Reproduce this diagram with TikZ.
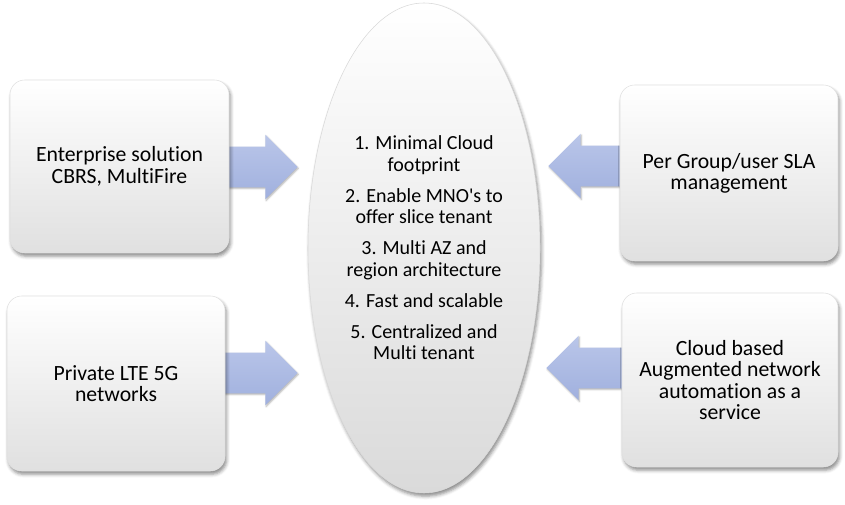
\documentclass[tikz,border=0pt]{standalone}
\usepackage{fontspec}
\setmainfont{Carlito}[Ligatures=NoCommon]
\usepackage{xcolor}
\usepackage{tikz}
\usetikzlibrary{shapes.geometric,shapes.arrows,shadows.blur}

\definecolor{arrowtop}{RGB}{186,198,233}
\definecolor{arrowbot}{RGB}{160,176,222}
\definecolor{boxbot}{RGB}{224,224,224}
\definecolor{hubbot}{RGB}{218,218,218}

\pgfdeclarelayer{background}
\pgfsetlayers{background,main}

\tikzset{
  infobox/.style={rectangle, rounded corners=11pt, top color=white, bottom color=boxbot,
    draw=black!12, line width=0.4pt, align=center, inner sep=2pt,
    blur shadow={shadow xshift=1.2pt, shadow yshift=-2.4pt, shadow blur radius=2.5pt, shadow opacity=45}},
  hubshape/.style={ellipse, top color=white, bottom color=hubbot, draw=black!15,
    line width=0.4pt, inner sep=0pt, minimum width=174pt, minimum height=367.5pt,
    blur shadow={shadow xshift=1.2pt, shadow yshift=-2.4pt, shadow blur radius=2.5pt, shadow opacity=45}},
  hubtext/.style={align=center, inner sep=0pt, font=\fontsize{15}{16.2}\selectfont},
  feedarrow/.style={single arrow, top color=arrowtop, bottom color=arrowbot, draw=none,
    inner xsep=0pt, inner ysep=15pt, minimum height=60pt, single arrow head extend=9pt,
    blur shadow={shadow xshift=0.6pt, shadow yshift=-1pt, shadow blur radius=1.2pt, shadow opacity=30}}
}

\begin{document}
\begin{tikzpicture}[x=0.75pt,y=0.75pt,yscale=-1,xscale=1]
\fontsize{16.3}{16}\selectfont
\useasboundingbox (0,0) rectangle (845,505);

% centre ellipse
\node[hubshape] (hub) at (424,248) {};
\node[hubtext] (hub text) at (hub.center) {1. Minimal Cloud\\ footprint\\[7pt]
  2. Enable MNO\textquotesingle s to\\ offer slice tenant\\[7pt]
  3. Multi AZ and\\ region architecture\\[7pt]
  4. Fast and scalable\\[7pt]
  5. Centralized and\\ Multi tenant};

% outer boxes
\node[infobox, minimum width=164.25pt, minimum height=129.75pt] (enterprise) at (119.5,166.5) {Enterprise solution\\ CBRS, MultiFire};

\node[infobox, minimum width=163.5pt, minimum height=131.25pt] (private) at (116,383.5) {Private LTE 5G\\ networks};

\node[infobox, minimum width=163.5pt, minimum height=132pt] (sla) at (729,173) {Per Group/user SLA\\ management};

\node[infobox, minimum width=162pt, minimum height=130.5pt] (automation) at (730,380) {Cloud based\\ Augmented network\\ automation as a\\ service};

% block arrows behind the boxes
\begin{pgfonlayer}{background}
\node[feedarrow, anchor=tip] (enterprise arrow) at (298,167) {};
\node[feedarrow, anchor=tip] (private arrow) at (298,373) {};
\node[feedarrow, shape border rotate=180, anchor=tip] (sla arrow) at (548,166) {};
\node[feedarrow, shape border rotate=180, anchor=tip] (automation arrow) at (546,368) {};
\end{pgfonlayer}

\end{tikzpicture}
\end{document}
